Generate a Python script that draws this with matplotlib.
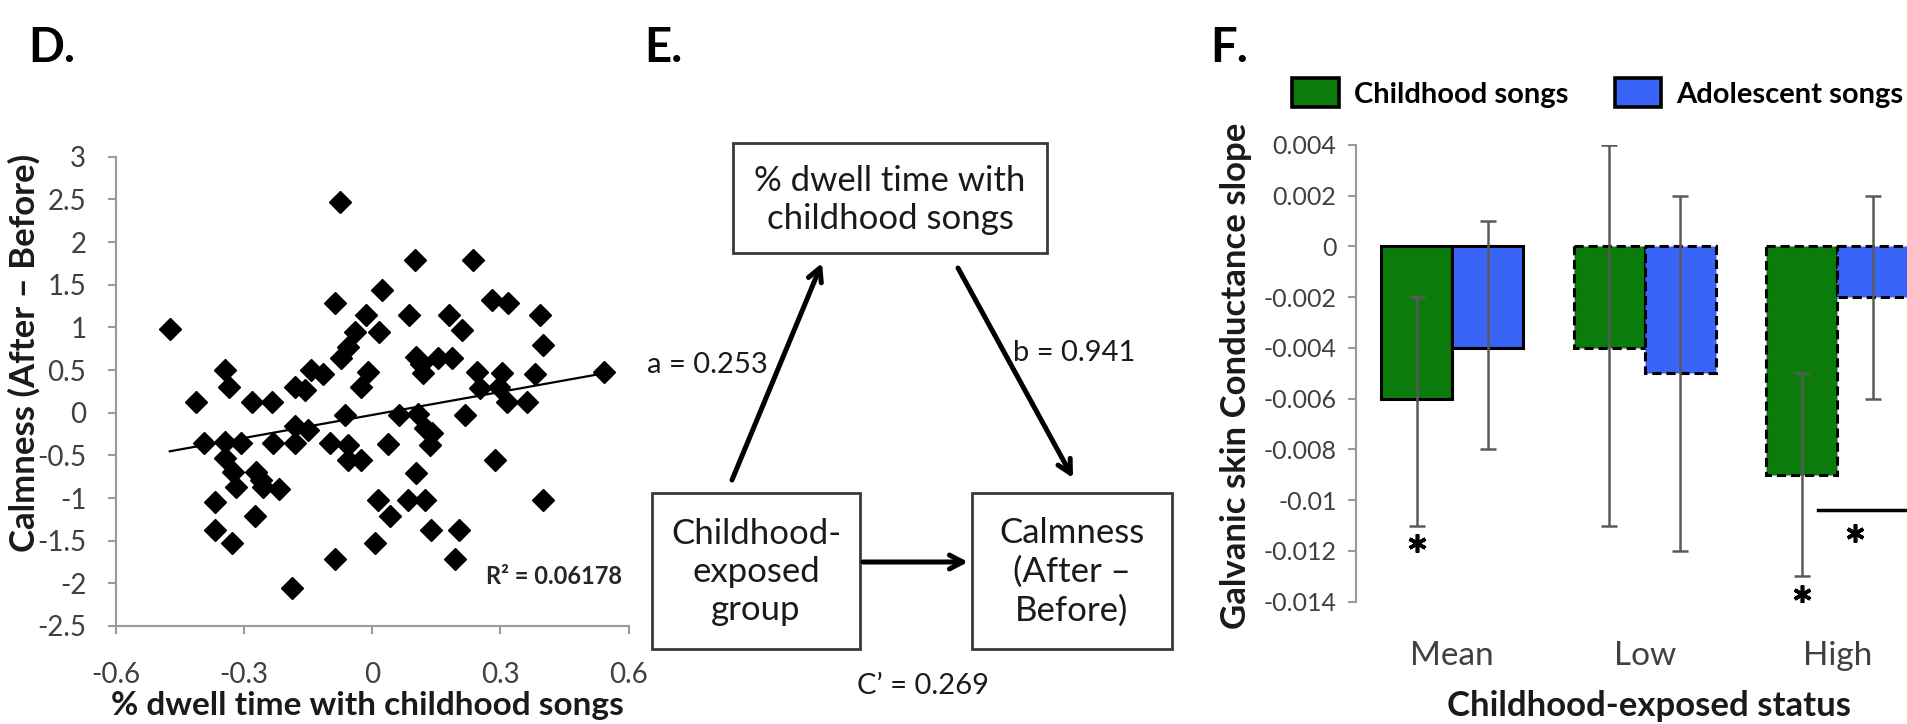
import matplotlib
matplotlib.use('Agg')
import matplotlib.pyplot as plt
from matplotlib.patches import Rectangle, Patch
import numpy as np

plt.rcParams['font.family'] = ['Lato', 'DejaVu Sans']
plt.rcParams['axes.unicode_minus'] = False

W, H = 1907, 724

###########################################
# D: dwell time vs change in calmness
###########################################
dwell = [-0.473, -0.076, -0.087, -0.013, 0.023, -0.040, 0.017, -0.056, -0.072, -0.009,
         -0.025, -0.344, -0.335, -0.142, -0.114, -0.180, -0.157, -0.412, -0.281, -0.235,
         0.100, 0.237, 0.280, 0.319, 0.393, 0.087, 0.181, 0.210, 0.399, 0.103,
         0.115, 0.120, 0.155, 0.186, 0.245, 0.303, 0.381, 0.543, 0.253, 0.296,
         0.315, 0.362, 0.217, 0.062, 0.108, 0.125, 0.140, 0.136, 0.038, 0.288,
         0.104, 0.015, 0.085, 0.124, 0.399, 0.042, 0.007, 0.138, 0.204, 0.194,
         -0.393, -0.344, -0.306, -0.343, -0.325, -0.317, -0.272, -0.256, -0.217, -0.231,
         -0.181, -0.150, -0.181, -0.099, -0.056, -0.056, -0.025, -0.064, -0.367, -0.274,
         -0.367, -0.328, -0.087, -0.187, -0.260]
calm = [0.98, 2.47, 1.29, 1.14, 1.44, 0.95, 0.95, 0.77, 0.64, 0.48,
        0.30, 0.50, 0.30, 0.50, 0.45, 0.30, 0.27, 0.13, 0.13, 0.13,
        1.79, 1.79, 1.32, 1.29, 1.14, 1.14, 1.14, 0.97, 0.79, 0.65,
        0.57, 0.47, 0.64, 0.64, 0.48, 0.46, 0.45, 0.48, 0.29, 0.30,
        0.13, 0.13, -0.03, -0.03, -0.01, -0.18, -0.24, -0.38, -0.37, -0.55,
        -0.71, -1.02, -1.02, -1.02, -1.02, -1.21, -1.53, -1.37, -1.37, -1.71,
        -0.36, -0.34, -0.36, -0.53, -0.69, -0.87, -0.69, -0.87, -0.90, -0.36,
        -0.16, -0.20, -0.36, -0.36, -0.38, -0.55, -0.55, -0.03, -1.05, -1.21,
        -1.37, -1.53, -1.71, -2.06, -0.79]
# linear trendline as reported with the scatter
trend_slope = 0.90
trend_intercept = -0.027
r_squared = 0.06178
d_xticks = [-0.6, -0.3, 0, 0.3, 0.6]
d_yticks = [3, 2.5, 2, 1.5, 1, 0.5, 0, -0.5, -1, -1.5, -2, -2.5]

###########################################
# E: mediation path coefficients
###########################################
path_a = 0.253
path_b = 0.941
path_c = 0.269

###########################################
# F: skin conductance slopes
###########################################
status = ['Mean', 'Low', 'High']
child_slope = [-0.006, -0.004, -0.009]
child_lo = [-0.011, -0.011, -0.013]
child_hi = [-0.002, 0.004, -0.005]
adol_slope = [-0.004, -0.005, -0.002]
adol_lo = [-0.008, -0.012, -0.006]
adol_hi = [0.001, 0.002, 0.002]
f_yticks = [0.004, 0.002, 0, -0.002, -0.004, -0.006, -0.008, -0.01, -0.012, -0.014]

green = '#0b7b0b'
blue = '#3a64f8'
tick_col = '#404040'
spine_col = '#9a9a9a'
label_col = '#1a1a1a'


def box(px_left, px_top, px_right, px_bottom):
    # figure-fraction rectangle from pixel edges
    return [px_left / W, 1 - px_bottom / H, (px_right - px_left) / W, (px_bottom - px_top) / H]


fig = plt.figure(figsize=(W / 100, H / 100), dpi=100)

# overlay used for the diagram and free text, in pixel units
ov = fig.add_axes([0, 0, 1, 1])
ov.set_xlim(0, W)
ov.set_ylim(H, 0)
ov.axis('off')

# ---------- D ----------
axd = fig.add_axes(box(115.5, 156.7, 628.5, 626))
axd.plot(dwell, calm, 'D', color='black', markersize=11.5, zorder=3)
xs = np.array([min(dwell), max(dwell)])
axd.plot(xs, trend_intercept + trend_slope * xs, color='black', lw=1.6, zorder=4)
axd.set_xlim(-0.6, 0.6)
axd.set_ylim(-2.5, 3)
axd.set_xticks(d_xticks)
axd.set_xticklabels(['{:g}'.format(v) for v in d_xticks])
axd.set_yticks(d_yticks)
axd.set_yticklabels(['{:g}'.format(v) for v in d_yticks])
for s in ['top', 'right']:
    axd.spines[s].set_visible(False)
for s in ['left', 'bottom']:
    axd.spines[s].set_color(spine_col)
    axd.spines[s].set_linewidth(1.5)
axd.tick_params(colors=spine_col, width=1.5, length=6, labelsize=20,
                labelcolor=tick_col)
axd.tick_params(axis='y', pad=15)
axd.tick_params(axis='x', pad=20)
axd.text(0.585, -1.92, 'R² = {:.5f}'.format(r_squared), ha='right', va='center',
         fontsize=17, fontweight='bold', color='#262626')

ov.text(28, 48, 'D.', fontsize=34, fontweight='bold', va='center', ha='left')
ov.text(24, 353, 'Calmness (After \u2013 Before)', rotation=90, fontsize=25,
        fontweight='bold', ha='center', va='center', color=label_col)
ov.text(367, 706, '% dwell time with childhood songs', fontsize=24,
        fontweight='bold', ha='center', va='center', color=label_col)

# ---------- E ----------
ov.text(644, 48, 'E.', fontsize=34, fontweight='bold', va='center', ha='left')
box_style = dict(fill=False, edgecolor='#3a3a3a', lw=2)
ov.add_patch(Rectangle((733, 143), 314, 110, **box_style))
ov.add_patch(Rectangle((652, 493), 208, 156, **box_style))
ov.add_patch(Rectangle((972, 493), 200, 156, **box_style))
txt_style = dict(fontsize=25, ha='center', va='center', color=label_col, linespacing=1.25)
ov.text(890, 200, '% dwell time with\nchildhood songs', **txt_style)
ov.text(756, 572, 'Childhood-\nexposed\ngroup', **txt_style)
ov.text(1072, 572, 'Calmness\n(After \u2013\nBefore)', **txt_style)

arrow = dict(arrowstyle='->,head_length=0.95,head_width=0.5', lw=3.6, color='black',
             shrinkA=0, shrinkB=0)
ov.annotate('', xy=(822, 263), xytext=(732, 480), arrowprops=arrow)
ov.annotate('', xy=(1073, 478), xytext=(958, 268), arrowprops=arrow)
ov.annotate('', xy=(968, 562), xytext=(863, 562), arrowprops=arrow)
lbl_style = dict(fontsize=21, va='center', color=label_col)
ov.text(768, 365, 'a = {:.3f}'.format(path_a), ha='right', **lbl_style)
ov.text(1013, 353, 'b = {:.3f}'.format(path_b), ha='left', **lbl_style)
ov.text(923, 686, 'C\u2019 = {:.3f}'.format(path_c), ha='center', **lbl_style)

# ---------- F ----------
ov.text(1210, 48, 'F.', fontsize=34, fontweight='bold', va='center', ha='left')
axf = fig.add_axes(box(1356, 145, 1933.5, 601.7))
x = np.arange(len(status))
bw = 0.369
solid = [True, False, False]
for i in range(len(status)):
    ls = '-' if solid[i] else (0, (3, 1.6))
    axf.bar(x[i] - bw / 2, child_slope[i], bw, color=green, edgecolor='black',
            lw=2.2, linestyle=ls, zorder=2)
    axf.bar(x[i] + bw / 2, adol_slope[i], bw, color=blue, edgecolor='black',
            lw=2.2, linestyle=ls, zorder=2)

err_kw = dict(fmt='none', ecolor='#5a5a5a', elinewidth=1.8, capsize=5.5,
              capthick=1.8, zorder=3)
c_err = [np.array(child_slope) - np.array(child_lo), np.array(child_hi) - np.array(child_slope)]
a_err = [np.array(adol_slope) - np.array(adol_lo), np.array(adol_hi) - np.array(adol_slope)]
axf.errorbar(x - bw / 2, child_slope, yerr=c_err, **err_kw)
axf.errorbar(x + bw / 2, adol_slope, yerr=a_err, **err_kw)

# significance marks
star = dict(marker=(6, 2, 0), color='black', markersize=13, mew=2.6, ls='none', zorder=4)
for i in [0, 2]:
    axf.plot(x[i] - bw / 2, child_lo[i] - 0.0007, **star)
axf.plot([1.90, 2.35], [-0.0104, -0.0104], color='black', lw=2.5)
axf.plot(2.09, -0.0113, **star)

axf.set_xlim(-0.5, 2.5)
axf.set_ylim(-0.014, 0.004)
axf.set_yticks(f_yticks)
axf.set_yticklabels(['{:g}'.format(v) for v in f_yticks])
axf.set_xticks(x)
axf.set_xticklabels(status)
for s in ['top', 'right', 'bottom']:
    axf.spines[s].set_visible(False)
axf.spines['left'].set_color(spine_col)
axf.spines['left'].set_linewidth(1.5)
axf.tick_params(axis='y', colors=spine_col, width=1.5, length=6, labelsize=18,
                labelcolor=tick_col, pad=8)
axf.tick_params(axis='x', length=0, labelsize=24, labelcolor=tick_col, pad=28)

ov.text(1236, 376, 'Galvanic skin Conductance slope', rotation=90, fontsize=25,
        fontweight='bold', ha='center', va='center', color=label_col)
ov.text(1649, 706, 'Childhood-exposed status', fontsize=25,
        fontweight='bold', ha='center', va='center', color=label_col)

handles = [Patch(facecolor=green, edgecolor='black', lw=2.6),
           Patch(facecolor=blue, edgecolor='black', lw=2.6)]
leg = axf.legend(handles, ['Childhood songs', 'Adolescent songs'], ncol=2,
                 loc='center left', bbox_to_anchor=(1266 / W, 1 - 93 / H),
                 bbox_transform=fig.transFigure, frameon=False,
                 prop={'size': 21, 'weight': 'bold'}, handlelength=1.6,
                 handleheight=1.15, handletextpad=0.5, columnspacing=1.6)

fig.savefig('out.png', dpi=100)
